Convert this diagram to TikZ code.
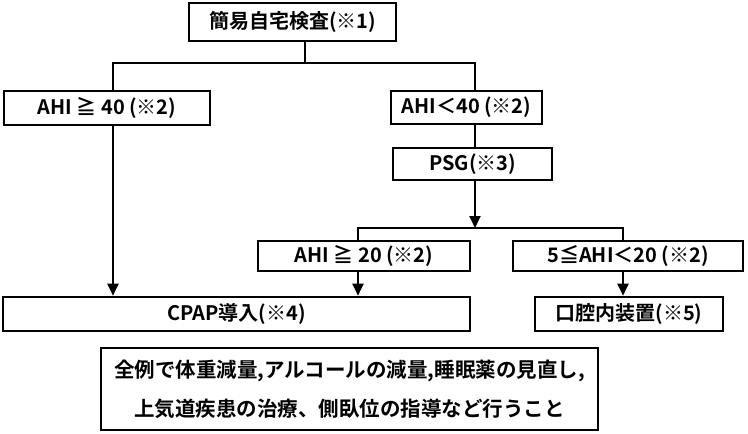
\documentclass[tikz,border=0pt]{standalone}
\usepackage{fontspec}
\setmainfont{Noto Sans CJK JP}[BoldFont={Noto Sans CJK JP Bold}]
\usetikzlibrary{arrows.meta}
\tikzset{
  box/.style={draw, line width=2.6pt, inner sep=0pt, align=center, font=\fontsize{20}{22}\selectfont\bfseries},
  link/.style={line width=2pt},
  arrowlink/.style={line width=2pt, -{Triangle[width=11pt,length=12pt]}},
}

\begin{document}
\begin{tikzpicture}[x=1pt,y=-1pt]
			%%%%% START %%%%%
			\useasboundingbox (0,0) rectangle (748,434);
			
			\node[box, minimum width=207pt, minimum height=38pt] (kensa) at (292.5, 22) {簡易自宅検査(※1)};
			
			\node[box, minimum width=206pt, minimum height=34pt] (ahi40) at (107, 108) {AHI ≧ 40 (※2)};
			\node[box, minimum width=151pt, minimum height=33pt] (ahilt) at (466.5, 107.5) {AHI＜40 (※2)};
			\node[box, minimum width=159pt, minimum height=32pt] (psg) at (472.5, 164) {PSG(※3)};
			
			\node[box, minimum width=212pt, minimum height=30pt] (ahi20) at (364, 256) {AHI ≧ 20 (※2)};
			\node[box, minimum width=230pt, minimum height=30pt] (ahi5) at (628, 256) {5≦AHI＜20 (※2)};
			
			\node[box, minimum width=467pt, minimum height=34pt] (cpap) at (236.5, 314) {CPAP導入(※4)};
			\node[box, minimum width=188pt, minimum height=34pt] (oral) at (629, 314) {口腔内装置(※5)};
			
			\node[box, minimum width=497pt, minimum height=82pt, font=\fontsize{20.5}{39}\selectfont\bfseries] (note) at (349.5, 389)
				{全例で体重減量,アルコールの減量,睡眠薬の見直し,\\上気道疾患の治療、側臥位の指導など行うこと};
			
			% first split
			\coordinate (splitA) at (305, 63);
			\coordinate (legL) at (113, 63);
			\coordinate (legR) at (475, 63);
			\draw[link] (kensa.south -| splitA) -- (splitA);
			\draw[link] (ahi40.north -| legL) -- (legL) -- (legR) -- (legR |- ahilt.north);
			\draw[link] (ahilt.south -| legR) -- (psg.north -| legR);
			
			% second split
			\coordinate (splitB) at (475, 228);
			\coordinate (legC) at (358, 228);
			\coordinate (legD) at (623, 228);
			\draw[arrowlink] (psg.south -| splitB) -- (splitB);
			\draw[link] (ahi20.north -| legC) -- (legC) -- (legD) -- (legD |- ahi5.north);
			
			\draw[arrowlink] (ahi40.south -| legL) -- (cpap.north -| legL);
			\draw[arrowlink] (ahi20.south -| legC) -- (cpap.north -| legC);
			\draw[arrowlink] (ahi5.south -| legD) -- (oral.north -| legD);
			
			%%%%% END %%%%%
\end{tikzpicture}
\end{document}
